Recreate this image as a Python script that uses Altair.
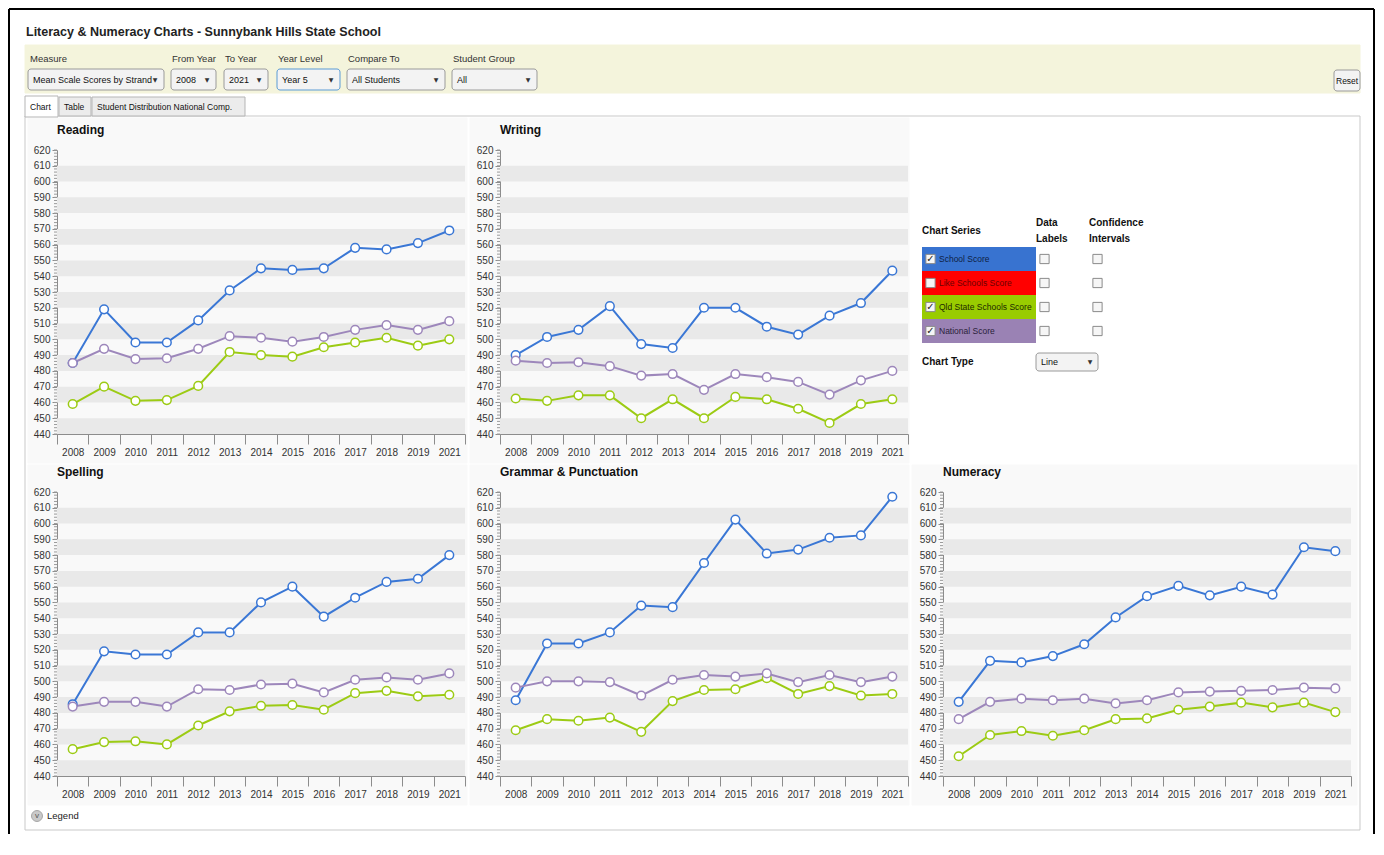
import altair as alt
import pandas as pd

# ---------------- data ----------------
YEARS = ["2008", "2009", "2010", "2011", "2012", "2013", "2014",
         "2015", "2016", "2017", "2018", "2019", "2021"]
SERIES = ["School Score", "Qld State Schools Score", "National Score"]
SERIES_COLORS = ["#3a77d5", "#9ccb14", "#9d87bb"]

READING_SCHOOL = [485, 519, 498, 498, 512, 531, 545, 544, 545, 558, 557, 561, 569]
READING_QLD = [459, 470, 461, 461.5, 470.5, 492, 490, 489, 495, 498, 501, 496, 500]
READING_NATIONAL = [485, 494, 487.5, 488, 494, 502, 501, 498.5, 501.5, 506, 509, 506, 511.5]

WRITING_SCHOOL = [490, 501.5, 506, 521, 497, 494.5, 520, 520, 508, 503, 515, 523, 543.5]
WRITING_QLD = [462.5, 461, 464.5, 464.5, 450, 462, 450, 463.5, 462, 456, 447, 459, 462]
WRITING_NATIONAL = [486.5, 485, 485.5, 483, 477, 478, 468, 478, 476, 473, 465, 474, 480]

SPELLING_SCHOOL = [485.5, 519, 517, 517, 531, 531, 550, 560, 541, 553, 563, 565, 580]
SPELLING_QLD = [457, 461.5, 462, 460, 472, 481, 484.5, 485, 482, 492.5, 494, 490.5, 491.5]
SPELLING_NATIONAL = [484, 487, 487, 484, 495, 494.5, 498, 498.5, 493, 501, 502.5, 501, 505]

GRAMMAR_SCHOOL = [488, 524, 524, 531, 548, 547, 575, 602.5, 581, 583.5, 591, 592.5, 617]
GRAMMAR_QLD = [469, 476, 475, 477, 468, 487.5, 494.5, 495, 502, 492, 497, 491, 492]
GRAMMAR_NATIONAL = [496, 500, 500, 499.5, 491, 501, 504, 503, 505, 499.5, 504, 499.5, 503]

NUMERACY_SCHOOL = [487, 513, 512, 516, 523.5, 540.5, 554, 560.5, 554.5, 560, 555, 585, 582.5]
NUMERACY_QLD = [452.5, 466, 468.5, 465.5, 469, 476, 476.5, 482, 484, 486.5, 483.5, 486.5, 480.5]
NUMERACY_NATIONAL = [476, 487, 489, 488, 489, 486, 488, 493, 493.5, 494, 494.5, 496, 495.5]

Y_DOMAIN = [440, 620]
Y_TICKS = list(range(440, 621, 10))
Y_MINOR = list(range(440, 621, 2))
STRIPE_STARTS = list(range(440, 610, 20))

LEGEND_SERIES = ["School Score", "Like Schools Score", "Qld State Schools Score", "National Score"]
LEGEND_FILL = ["#3873d0", "#ff0000", "#99cc00", "#9a82b4"]
LEGEND_TEXT = ["#0f1f45", "#6b0000", "#1e2a00", "#2a1f3a"]
LEGEND_CHECK = ["\u2713", "", "\u2713", "\u2713"]

CONTROL_LABELS = ["Measure", "From Year", "To Year", "Year Level", "Compare To", "Student Group"]
CONTROL_VALUES = ["Mean Scale Scores by Strand", "2008", "2021", "Year 5", "All Students", "All"]
TAB_LABELS = ["Chart", "Table", "Student Distribution National Comp."]

TITLE = "Literacy & Numeracy Charts - Sunnybank Hills State School"

# ---------------- layout / style ----------------
PW, PH = 408, 284
OX, OY = 8, 8
HEADER_H = 84
FONT = "Liberation Sans, Arial, sans-serif"

# control positions (page pixels): label x, box x0, box x1
CONTROL_POS = [(30, 28, 164), (172, 171, 216), (225, 224, 268),
               (278, 277, 340), (348, 347, 445), (453, 452, 537)]
TAB_POS = [(25, 58), (59, 91), (92, 245)]
PANEL_BG = [(28, 118, 467, 463), (470, 118, 909, 463), (28, 465, 467, 805),
            (470, 465, 909, 805), (912, 465, 1357, 805)]


def panel(title, school, qld, national):
    recs = []
    for name, vals in zip(SERIES, (school, qld, national)):
        for yr, v in zip(YEARS, vals):
            recs.append({"year": yr, "series": name, "value": v})
    df = pd.DataFrame(recs)
    stripes = pd.DataFrame({"lo": STRIPE_STARTS, "hi": [s + 10 for s in STRIPE_STARTS]})
    minor = pd.DataFrame({"v": Y_MINOR})
    ys = alt.Scale(domain=Y_DOMAIN, nice=False, zero=False)
    xs = alt.Scale(type="band", domain=YEARS, paddingInner=0, paddingOuter=0)
    yaxis = alt.Axis(title=None, values=Y_TICKS, tickSize=5, tickColor="#8c8c8c",
                     domainColor="#8c8c8c", labelFont=FONT, labelFontSize=10,
                     labelColor="#333333", labelPadding=2, grid=False)
    xaxis = alt.Axis(title=None, tickBand="extent", tickSize=10, tickColor="#8c8c8c",
                     domainColor="#8c8c8c", labelFont=FONT, labelFontSize=10,
                     labelColor="#333333", labelPadding=3, labelAngle=0, grid=False)
    cscale = alt.Scale(domain=SERIES, range=SERIES_COLORS)
    l_str = alt.Chart(stripes).mark_rect(color="#e9e9e9").encode(
        x=alt.value(0), x2=alt.value(PW),
        y=alt.Y("lo:Q", scale=ys, axis=yaxis), y2="hi:Q")
    l_min = alt.Chart(minor).mark_rule(color="#9a9a9a", strokeWidth=1).encode(
        x=alt.value(-3), x2=alt.value(0), y=alt.Y("v:Q", scale=ys, axis=yaxis))
    xenc = alt.X("year:O", scale=xs, axis=xaxis, sort=YEARS)
    yenc = alt.Y("value:Q", scale=ys, axis=yaxis)
    l_line = alt.Chart(df).mark_line(strokeWidth=2).encode(
        x=xenc, y=yenc, color=alt.Color("series:N", scale=cscale, legend=None))
    l_pt = alt.Chart(df).mark_point(filled=True, size=75, strokeWidth=1.5,
                                     opacity=1, fill="white").encode(
        x=xenc, y=yenc, stroke=alt.Stroke("series:N", scale=cscale, legend=None))
    return alt.layer(l_str, l_min, l_line, l_pt).properties(
        width=PW, height=PH,
        title=alt.TitleParams(text=title, anchor="start", font=FONT, fontSize=12,
                              fontWeight="bold", color="#111111", offset=0, dy=1,
                              baseline="alphabetic", frame="group"))


def legend_chart():
    df = pd.DataFrame({"series": LEGEND_SERIES, "fcol": LEGEND_FILL,
                       "tcol": LEGEND_TEXT, "check": LEGEND_CHECK})
    ly = alt.Y("series:N", sort=LEGEND_SERIES, axis=None,
               scale=alt.Scale(type="band", domain=LEGEND_SERIES, range=[97, 193],
                               paddingInner=0, paddingOuter=0))
    rows = alt.Chart(df).mark_rect().encode(
        x=alt.value(-21), x2=alt.value(93), y=ly, fill=alt.Fill("fcol:N", scale=None))
    boxes = []
    for bx in (-12.5, 101.5, 154.5):
        boxes.append(alt.Chart(df).mark_square(size=85, fill="#f6f6f6", stroke="#8a8a8a",
                                               strokeWidth=1, opacity=1).encode(
            x=alt.value(bx), y=ly))
    checks = alt.Chart(df).mark_text(font="DejaVu Sans", fontSize=10, color="#222222").encode(
        x=alt.value(-12.5), y=ly, text="check:N")
    labels = alt.Chart(df).mark_text(align="left", font=FONT, fontSize=8.5).encode(
        x=alt.value(-4), y=ly, text="series:N", color=alt.Color("tcol:N", scale=None))
    return alt.layer(rows, *boxes, checks, labels).properties(width=PW, height=PH)


def header_chart():
    rects = []
    rects.append((25, 116, 1360, 830, "#ffffff", "#c9c9c9"))
    for (a, b, c, d) in PANEL_BG:
        rects.append((a, b, c, d, "#f9f9f9", "#f9f9f9"))
    rects.append((25, 45, 1360, 93, "#f4f4dc", "#f4f4dc"))
    for i, (a, c) in enumerate(TAB_POS):
        if i == 0:
            rects.append((a, 96, c, 117, "#ffffff", "#b5b5b5"))
        else:
            rects.append((a, 97, c, 116, "#ececec", "#b5b5b5"))
    rect_df = pd.DataFrame(rects, columns=["x", "y", "x2", "y2", "fill", "stroke"])
    for col in ("x", "x2"):
        rect_df[col] = rect_df[col] - OX
    for col in ("y", "y2"):
        rect_df[col] = rect_df[col] - OY

    boxes = []
    for i, (lx, a, c) in enumerate(CONTROL_POS):
        boxes.append((a, 69, c, 90, "#5b9bd5" if i == 3 else "#9a9a9a"))
    boxes.append((1334, 70, 1360, 91, "#9a9a9a"))
    boxes.append((1036, 353, 1098, 371, "#9a9a9a"))
    box_df = pd.DataFrame(boxes, columns=["x", "y", "x2", "y2", "stroke"])
    for col in ("x", "x2"):
        box_df[col] = box_df[col] - OX
    for col in ("y", "y2"):
        box_df[col] = box_df[col] - OY

    texts = []
    for (lx, a, c), lab, val in zip(CONTROL_POS, CONTROL_LABELS, CONTROL_VALUES):
        texts.append((lab, lx, 59, "#333333", 9.5))
        texts.append((val, a + 5, 80, "#111111", 9))
    texts.append(("Reset", 1336, 81, "#111111", 8.5))
    for (a, c), lab in zip(TAB_POS, TAB_LABELS):
        texts.append((lab, a + 5, 107, "#111111", 8.5))
    texts.append(("Line", 1041, 362, "#111111", 9))
    texts.append(("Legend", 47, 816, "#222222", 9.5))
    text_df = pd.DataFrame(texts, columns=["text", "x", "y", "color", "fs"])
    text_df["x"] -= OX
    text_df["y"] -= OY

    bold = [("Chart Series", 922, 231), ("Data", 1036, 223), ("Labels", 1036, 239),
            ("Confidence", 1089, 223), ("Intervals", 1089, 239), ("Chart Type", 922, 362)]
    bold_df = pd.DataFrame(bold, columns=["text", "x", "y"])
    bold_df["x"] -= OX
    bold_df["y"] -= OY

    arrows = [(c - 9, 80) for (lx, a, c) in CONTROL_POS] + [(1090, 362)]
    arrow_df = pd.DataFrame(arrows, columns=["x", "y"])
    arrow_df["x"] -= OX
    arrow_df["y"] -= OY
    arrow_df["t"] = "\u25bc"

    frame = [(1, 1, 1, 826), (1, 1, 1366, 1), (1366, 1, 1366, 826)]
    frame_df = pd.DataFrame(frame, columns=["x", "y", "x2", "y2"])

    title_df = pd.DataFrame({"text": [TITLE], "x": [26 - OX], "y": [32 - OY]})
    icon_df = pd.DataFrame({"x": [37 - OX], "y": [816 - OY], "t": ["v"]})

    X = lambda f: alt.X(f, scale=None, axis=None)
    Y = lambda f: alt.Y(f, scale=None, axis=None)

    l_rect = alt.Chart(rect_df).mark_rect(strokeWidth=1).encode(
        x=X("x:Q"), x2="x2:Q", y=Y("y:Q"), y2="y2:Q",
        fill=alt.Fill("fill:N", scale=None), stroke=alt.Stroke("stroke:N", scale=None))
    l_box = alt.Chart(box_df).mark_rect(fill="#f3f3f3", strokeWidth=1, cornerRadius=3).encode(
        x=X("x:Q"), x2="x2:Q", y=Y("y:Q"), y2="y2:Q",
        stroke=alt.Stroke("stroke:N", scale=None))
    l_text = alt.Chart(text_df).mark_text(align="left", baseline="middle", font=FONT).encode(
        x=X("x:Q"), y=Y("y:Q"), text="text:N", color=alt.Color("color:N", scale=None),
        size=alt.Size("fs:Q", scale=None))
    l_bold = alt.Chart(bold_df).mark_text(align="left", baseline="middle", font=FONT,
                                          fontSize=10, fontWeight="bold", color="#111111").encode(
        x=X("x:Q"), y=Y("y:Q"), text="text:N")
    l_arrow = alt.Chart(arrow_df).mark_text(align="center", baseline="middle", fontSize=6,
                                            font="DejaVu Sans", color="#333333").encode(
        x=X("x:Q"), y=Y("y:Q"), text="t:N")
    l_title = alt.Chart(title_df).mark_text(align="left", baseline="middle", font=FONT,
                                            fontSize=12.5, fontWeight="bold",
                                            color="#222222").encode(
        x=X("x:Q"), y=Y("y:Q"), text="text:N")
    l_frame = alt.Chart(frame_df).mark_rule(color="#000000", strokeWidth=2).encode(
        x=X("x:Q"), x2="x2:Q", y=Y("y:Q"), y2="y2:Q")
    l_icon = alt.Chart(icon_df).mark_circle(size=120, color="#c9c9c9", stroke="#a5a5a5",
                                            strokeWidth=1, opacity=1).encode(
        x=X("x:Q"), y=Y("y:Q"))
    l_icon_t = alt.Chart(icon_df).mark_text(fontSize=8, color="#555555", font=FONT).encode(
        x=X("x:Q"), y=Y("y:Q"), text="t:N")
    return alt.layer(l_rect, l_box, l_text, l_bold, l_arrow, l_title, l_frame,
                     l_icon, l_icon_t).properties(width=14, height=HEADER_H)


def blank(w, h):
    return alt.Chart(pd.DataFrame({"a": [0]})).mark_point(opacity=0, size=1).encode(
        x=alt.value(w / 2), y=alt.value(h / 2)).properties(width=w, height=h)


reading = panel("Reading", READING_SCHOOL, READING_QLD, READING_NATIONAL)
writing = panel("Writing", WRITING_SCHOOL, WRITING_QLD, WRITING_NATIONAL)
spelling = panel("Spelling", SPELLING_SCHOOL, SPELLING_QLD, SPELLING_NATIONAL)
grammar = panel("Grammar & Punctuation", GRAMMAR_SCHOOL, GRAMMAR_QLD, GRAMMAR_NATIONAL)
numeracy = panel("Numeracy", NUMERACY_SCHOOL, NUMERACY_QLD, NUMERACY_NATIONAL)

cells = [header_chart(), blank(PW, HEADER_H), blank(PW, HEADER_H), blank(PW, HEADER_H),
         blank(14, PH), reading, writing, legend_chart(),
         blank(14, PH), spelling, grammar, numeracy]

chart = alt.concat(*cells, columns=4, align="each", bounds="flush",
                   spacing={"row": 58, "column": 35},
                   padding=0, background="#ffffff").configure_view(stroke=None)

chart.save("out.html", embed_options={"renderer": "svg", "actions": False})
